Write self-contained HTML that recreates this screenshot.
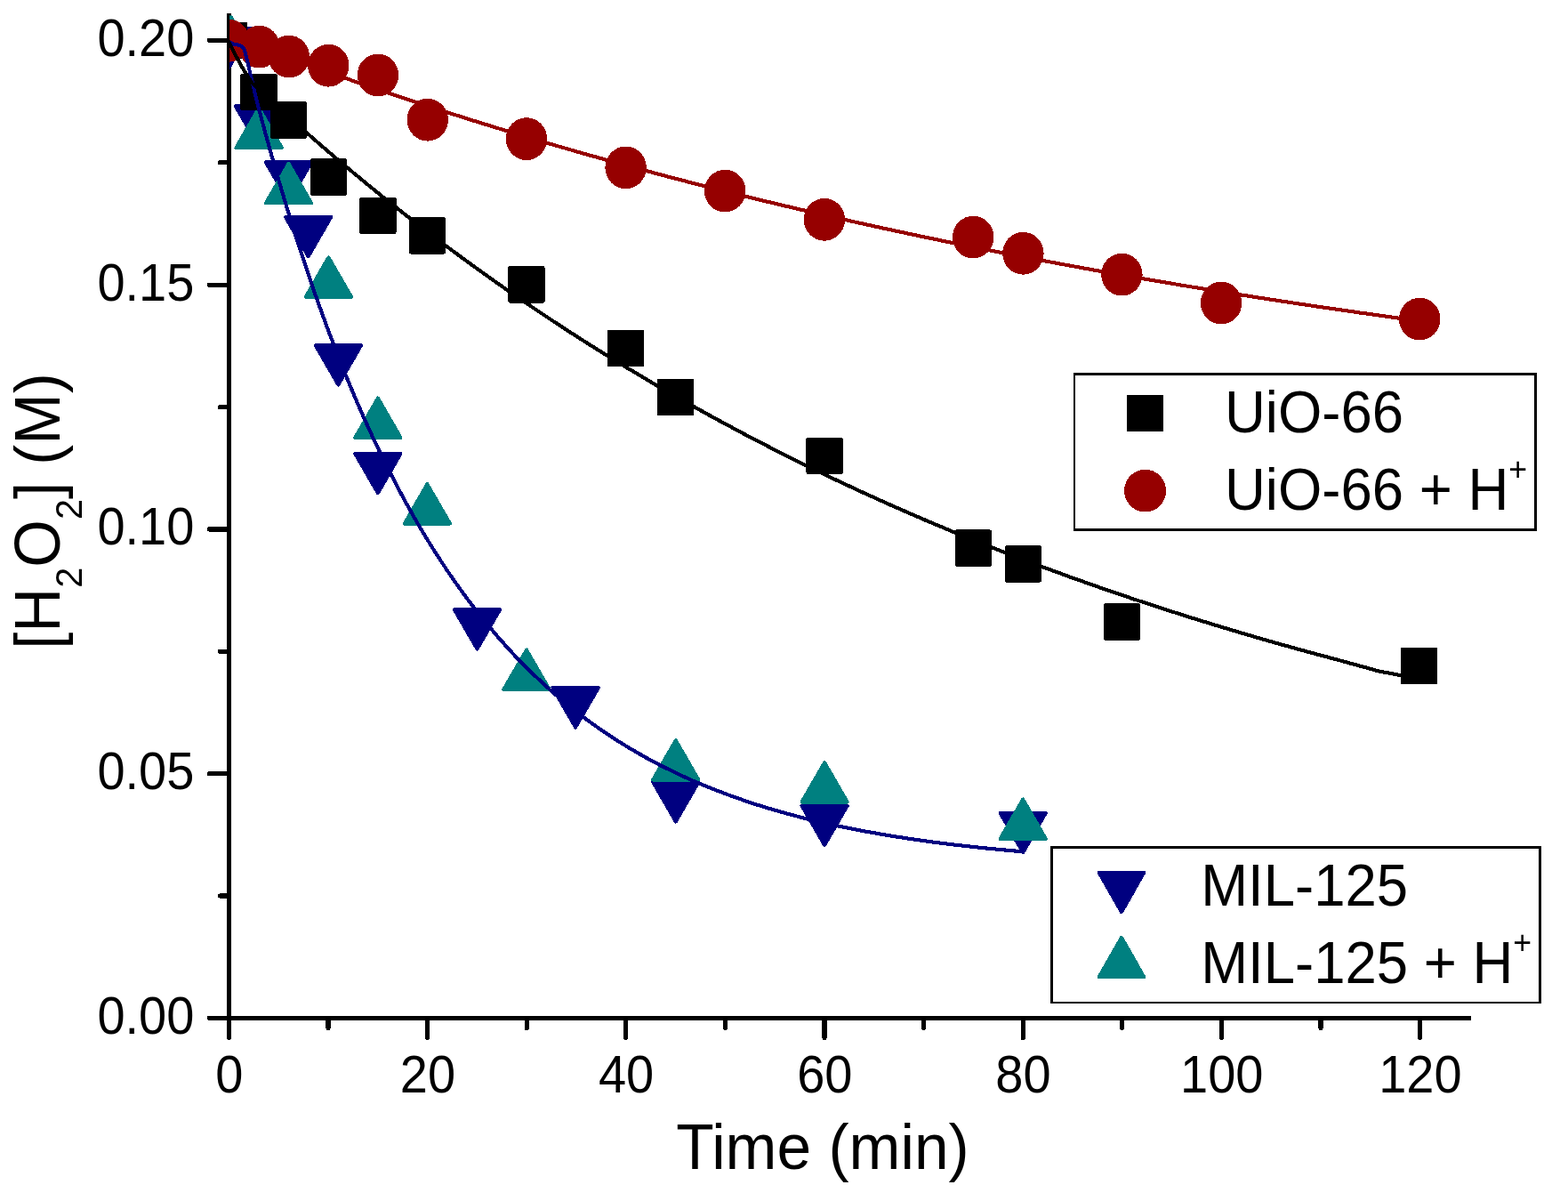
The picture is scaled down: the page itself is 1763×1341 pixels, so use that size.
<!DOCTYPE html>
<html lang="en"><head><meta charset="utf-8"><title>H2O2 decomposition over UiO-66 and MIL-125</title>
<style>
html,body{margin:0;padding:0;background:#fff;}
body{width:1763px;height:1341px;overflow:hidden;}
svg{display:block;}
text{font-family:'Liberation Sans', Arial, Helvetica, sans-serif;fill:#000;}
</style></head><body>
<svg width="1763" height="1341" viewBox="0 0 1763 1341">
<rect x="0" y="0" width="1763" height="1341" fill="#fff"/>
<defs><clipPath id="plot"><rect x="258.10" y="17.50" width="1397.30" height="1126.90"/></clipPath></defs>
<g stroke="#000" stroke-width="5.20" stroke-linecap="round" fill="none" shape-rendering="crispEdges">
<path d="M257.40,17.20 V1144.40"/>
<path d="M257.40,1144.40 H1654.00" stroke-linecap="butt"/>
<path d="M257.40,1144.40 H235.40"/>
<path d="M257.40,869.68 H235.40"/>
<path d="M257.40,594.95 H235.40"/>
<path d="M257.40,320.23 H235.40"/>
<path d="M257.40,45.50 H235.40"/>
<path d="M257.40,1007.04 H247.40"/>
<path d="M257.40,732.31 H247.40"/>
<path d="M257.40,457.59 H247.40"/>
<path d="M257.40,182.86 H247.40"/>
<path d="M257.40,1144.40 V1166.40"/>
<path d="M480.60,1144.40 V1166.40"/>
<path d="M703.80,1144.40 V1166.40"/>
<path d="M927.00,1144.40 V1166.40"/>
<path d="M1150.20,1144.40 V1166.40"/>
<path d="M1373.40,1144.40 V1166.40"/>
<path d="M1596.60,1144.40 V1166.40"/>
<path d="M369.00,1144.40 V1155.40"/>
<path d="M592.20,1144.40 V1155.40"/>
<path d="M815.40,1144.40 V1155.40"/>
<path d="M1038.60,1144.40 V1155.40"/>
<path d="M1261.80,1144.40 V1155.40"/>
<path d="M1485.00,1144.40 V1155.40"/>
</g>
<g clip-path="url(#plot)" shape-rendering="crispEdges">
<g fill="#000080">
<path d="M231.75,31.50 L283.05,31.50 L257.40,75.90 Z" fill="#000080" stroke="#000080" stroke-width="4" stroke-linejoin="round"/>
<path d="M264.85,119.40 L316.15,119.40 L290.50,163.80 Z" fill="#000080" stroke="#000080" stroke-width="4" stroke-linejoin="round"/>
<path d="M298.85,182.40 L350.15,182.40 L324.50,226.80 Z" fill="#000080" stroke="#000080" stroke-width="4" stroke-linejoin="round"/>
<path d="M320.95,243.90 L372.25,243.90 L346.60,288.30 Z" fill="#000080" stroke="#000080" stroke-width="4" stroke-linejoin="round"/>
<path d="M354.75,388.20 L406.05,388.20 L380.40,432.60 Z" fill="#000080" stroke="#000080" stroke-width="4" stroke-linejoin="round"/>
<path d="M399.25,509.90 L450.55,509.90 L424.90,554.30 Z" fill="#000080" stroke="#000080" stroke-width="4" stroke-linejoin="round"/>
<path d="M510.85,685.20 L562.15,685.20 L536.50,729.60 Z" fill="#000080" stroke="#000080" stroke-width="4" stroke-linejoin="round"/>
<path d="M621.45,773.20 L672.75,773.20 L647.10,817.60 Z" fill="#000080" stroke="#000080" stroke-width="4" stroke-linejoin="round"/>
<path d="M734.15,879.10 L785.45,879.10 L759.80,923.50 Z" fill="#000080" stroke="#000080" stroke-width="4" stroke-linejoin="round"/>
<path d="M901.45,905.60 L952.75,905.60 L927.10,950.00 Z" fill="#000080" stroke="#000080" stroke-width="4" stroke-linejoin="round"/>
<path d="M1124.55,913.90 L1175.85,913.90 L1150.20,958.30 Z" fill="#000080" stroke="#000080" stroke-width="4" stroke-linejoin="round"/>
</g>
<g fill="#008080">
<path d="M231.75,59.50 L283.05,59.50 L257.40,15.10 Z" fill="#008080" stroke="#008080" stroke-width="4" stroke-linejoin="round"/>
<path d="M265.45,165.90 L316.75,165.90 L291.10,121.50 Z" fill="#008080" stroke="#008080" stroke-width="4" stroke-linejoin="round"/>
<path d="M298.85,228.40 L350.15,228.40 L324.50,184.00 Z" fill="#008080" stroke="#008080" stroke-width="4" stroke-linejoin="round"/>
<path d="M343.75,333.70 L395.05,333.70 L369.40,289.30 Z" fill="#008080" stroke="#008080" stroke-width="4" stroke-linejoin="round"/>
<path d="M399.25,491.90 L450.55,491.90 L424.90,447.50 Z" fill="#008080" stroke="#008080" stroke-width="4" stroke-linejoin="round"/>
<path d="M454.75,588.60 L506.05,588.60 L480.40,544.20 Z" fill="#008080" stroke="#008080" stroke-width="4" stroke-linejoin="round"/>
<path d="M566.35,774.90 L617.65,774.90 L592.00,730.50 Z" fill="#008080" stroke="#008080" stroke-width="4" stroke-linejoin="round"/>
<path d="M734.15,876.60 L785.45,876.60 L759.80,832.20 Z" fill="#008080" stroke="#008080" stroke-width="4" stroke-linejoin="round"/>
<path d="M901.45,901.60 L952.75,901.60 L927.10,857.20 Z" fill="#008080" stroke="#008080" stroke-width="4" stroke-linejoin="round"/>
<path d="M1124.55,942.90 L1175.85,942.90 L1150.20,898.50 Z" fill="#008080" stroke="#008080" stroke-width="4" stroke-linejoin="round"/>
</g>
<g fill="#000">
<rect x="238.70" y="26.80" width="37.40" height="37.40" fill="#000" stroke="#000" stroke-width="4" stroke-linejoin="round"/>
<rect x="272.30" y="85.00" width="37.40" height="37.40" fill="#000" stroke="#000" stroke-width="4" stroke-linejoin="round"/>
<rect x="305.90" y="116.30" width="37.40" height="37.40" fill="#000" stroke="#000" stroke-width="4" stroke-linejoin="round"/>
<rect x="350.80" y="180.30" width="37.40" height="37.40" fill="#000" stroke="#000" stroke-width="4" stroke-linejoin="round"/>
<rect x="406.20" y="223.60" width="37.40" height="37.40" fill="#000" stroke="#000" stroke-width="4" stroke-linejoin="round"/>
<rect x="461.80" y="246.10" width="37.40" height="37.40" fill="#000" stroke="#000" stroke-width="4" stroke-linejoin="round"/>
<rect x="573.30" y="301.10" width="37.40" height="37.40" fill="#000" stroke="#000" stroke-width="4" stroke-linejoin="round"/>
<rect x="684.90" y="372.70" width="37.40" height="37.40" fill="#000" stroke="#000" stroke-width="4" stroke-linejoin="round"/>
<rect x="741.00" y="427.70" width="37.40" height="37.40" fill="#000" stroke="#000" stroke-width="4" stroke-linejoin="round"/>
<rect x="908.40" y="493.70" width="37.40" height="37.40" fill="#000" stroke="#000" stroke-width="4" stroke-linejoin="round"/>
<rect x="1075.50" y="597.40" width="37.40" height="37.40" fill="#000" stroke="#000" stroke-width="4" stroke-linejoin="round"/>
<rect x="1131.50" y="615.20" width="37.40" height="37.40" fill="#000" stroke="#000" stroke-width="4" stroke-linejoin="round"/>
<rect x="1242.80" y="680.40" width="37.40" height="37.40" fill="#000" stroke="#000" stroke-width="4" stroke-linejoin="round"/>
<rect x="1576.80" y="729.70" width="37.40" height="37.40" fill="#000" stroke="#000" stroke-width="4" stroke-linejoin="round"/>
</g>
<g fill="#960000">
<ellipse cx="257.40" cy="45.70" rx="23.20" ry="23.90"/>
<ellipse cx="291.40" cy="52.60" rx="23.20" ry="23.90"/>
<ellipse cx="324.80" cy="63.60" rx="23.20" ry="23.90"/>
<ellipse cx="369.30" cy="73.70" rx="23.20" ry="23.90"/>
<ellipse cx="424.90" cy="84.50" rx="23.20" ry="23.90"/>
<ellipse cx="480.80" cy="134.70" rx="23.20" ry="23.90"/>
<ellipse cx="592.00" cy="156.10" rx="23.20" ry="23.90"/>
<ellipse cx="703.60" cy="188.40" rx="23.20" ry="23.90"/>
<ellipse cx="815.20" cy="214.60" rx="23.20" ry="23.90"/>
<ellipse cx="926.90" cy="246.80" rx="23.20" ry="23.90"/>
<ellipse cx="1094.20" cy="266.60" rx="23.20" ry="23.90"/>
<ellipse cx="1150.40" cy="284.80" rx="23.20" ry="23.90"/>
<ellipse cx="1261.40" cy="308.60" rx="23.20" ry="23.90"/>
<ellipse cx="1373.10" cy="340.60" rx="23.20" ry="23.90"/>
<ellipse cx="1596.20" cy="358.60" rx="23.20" ry="23.90"/>
</g>
<g fill="none" stroke-width="4.1" stroke-linejoin="round" stroke-linecap="round">
<path d="M257.40,39.40 C262.98,41.55 279.72,48.04 290.88,52.27 C302.04,56.51 313.20,60.68 324.36,64.81 C335.52,68.93 346.68,73.00 357.84,77.01 C369.00,81.03 380.16,84.99 391.32,88.90 C402.48,92.81 413.64,96.67 424.80,100.48 C435.96,104.28 447.12,108.04 458.28,111.75 C469.44,115.46 480.60,119.11 491.76,122.73 C502.92,126.34 514.08,129.90 525.24,133.41 C536.40,136.93 547.56,140.40 558.72,143.82 C569.88,147.25 581.04,150.63 592.20,153.96 C603.36,157.30 614.52,160.59 625.68,163.83 C636.84,167.08 648.00,170.28 659.16,173.45 C670.32,176.61 681.48,179.73 692.64,182.81 C703.80,185.89 714.96,188.92 726.12,191.92 C737.28,194.92 748.44,197.88 759.60,200.80 C770.76,203.72 781.92,206.60 793.08,209.44 C804.24,212.29 815.40,215.09 826.56,217.86 C837.72,220.63 848.88,223.36 860.04,226.06 C871.20,228.76 882.36,231.42 893.52,234.04 C904.68,236.67 915.84,239.26 927.00,241.82 C938.16,244.37 949.32,246.90 960.48,249.39 C971.64,251.88 982.80,254.33 993.96,256.76 C1005.12,259.18 1016.28,261.58 1027.44,263.94 C1038.60,266.30 1049.76,268.63 1060.92,270.93 C1072.08,273.23 1083.24,275.50 1094.40,277.74 C1105.56,279.98 1116.72,282.19 1127.88,284.37 C1139.04,286.55 1150.20,288.70 1161.36,290.82 C1172.52,292.95 1183.68,295.04 1194.84,297.11 C1206.00,299.18 1217.16,301.22 1228.32,303.23 C1239.48,305.25 1250.64,307.23 1261.80,309.19 C1272.96,311.16 1284.12,313.09 1295.28,315.00 C1306.44,316.91 1317.60,318.79 1328.76,320.65 C1339.92,322.51 1351.08,324.35 1362.24,326.16 C1373.40,327.97 1384.56,329.76 1395.72,331.52 C1406.88,333.28 1418.04,335.02 1429.20,336.74 C1440.36,338.46 1451.52,340.15 1462.68,341.83 C1473.84,343.50 1485.00,345.15 1496.16,346.78 C1507.32,348.41 1518.48,350.01 1529.64,351.60 C1540.80,353.18 1551.96,354.75 1563.12,356.29 C1574.28,357.84 1591.02,360.10 1596.60,360.87" stroke="#960000"/>
<path d="M257.40,47.00 C258.30,47.43 260.92,48.97 262.80,49.60 C264.68,50.23 267.07,50.27 268.70,50.80 C270.33,51.33 271.60,52.02 272.60,52.80 C273.60,53.58 274.07,53.97 274.70,55.50 C275.33,57.03 275.83,59.78 276.40,62.00 C276.97,64.22 277.53,66.47 278.10,68.80 C278.67,71.13 279.23,73.60 279.80,76.00 C280.37,78.40 280.80,80.28 281.50,83.20 C282.20,86.12 282.81,88.49 284.00,93.50 C285.19,98.51 287.13,107.16 288.65,113.26 C290.17,119.37 291.62,124.55 293.11,130.12 C294.60,135.68 296.09,141.19 297.58,146.64 C299.06,152.10 300.37,156.84 302.04,162.84 C303.71,168.84 305.76,176.13 307.62,182.65 C309.48,189.17 311.34,195.61 313.20,201.98 C315.06,208.34 316.92,214.62 318.78,220.83 C320.64,227.04 321.57,230.25 324.36,239.23 C327.15,248.21 331.80,263.15 335.52,274.69 C339.24,286.23 342.96,297.46 346.68,308.45 C350.40,319.43 354.12,330.12 357.84,340.58 C361.56,351.03 365.28,361.21 369.00,371.16 C372.72,381.11 376.44,390.81 380.16,400.28 C383.88,409.75 387.60,418.98 391.32,427.99 C395.04,437.01 398.76,445.79 402.48,454.38 C406.20,462.96 409.92,471.32 413.64,479.49 C417.36,487.66 421.08,495.62 424.80,503.40 C428.52,511.17 430.38,515.31 435.96,526.15 C441.54,536.99 450.84,555.00 458.28,568.43 C465.72,581.87 473.16,594.58 480.60,606.75 C488.04,618.92 495.48,630.43 502.92,641.46 C510.36,652.49 517.80,662.93 525.24,672.92 C532.68,682.91 540.12,692.37 547.56,701.42 C555.00,710.48 562.44,719.05 569.88,727.25 C577.32,735.46 582.90,741.58 592.20,750.66 C601.50,759.73 614.52,772.07 625.68,781.71 C636.84,791.35 648.00,800.18 659.16,808.49 C670.32,816.81 681.48,824.42 692.64,831.59 C703.80,838.77 714.96,845.34 726.12,851.52 C737.28,857.71 748.44,863.37 759.60,868.71 C770.76,874.05 780.06,878.29 793.08,883.53 C806.10,888.78 822.84,895.13 837.72,900.18 C852.60,905.23 867.48,909.70 882.36,913.85 C897.24,918.00 912.12,921.67 927.00,925.07 C941.88,928.48 956.76,931.49 971.64,934.29 C986.52,937.08 1001.40,939.56 1016.28,941.85 C1031.16,944.15 1046.04,946.18 1060.92,948.06 C1075.80,949.95 1090.68,951.62 1105.56,953.17 C1120.44,954.71 1142.76,956.65 1150.20,957.35" stroke="#000080"/>
<path d="M257.40,46.50 C257.58,47.02 257.25,47.02 258.50,49.60 C259.75,52.18 262.77,57.93 264.90,62.00 C267.03,66.07 269.10,70.17 271.30,74.00 C273.50,77.83 275.98,81.67 278.10,85.00 C280.22,88.33 281.87,91.60 284.00,94.00 C286.13,96.40 287.87,96.64 290.88,99.37 C293.89,102.11 298.32,106.83 302.04,110.41 C305.76,113.99 309.48,117.43 313.20,120.87 C316.92,124.31 318.78,126.04 324.36,131.05 C329.94,136.06 339.24,144.37 346.68,150.91 C354.12,157.45 359.70,162.35 369.00,170.28 C378.30,178.20 391.32,189.24 402.48,198.48 C413.64,207.73 424.80,216.80 435.96,225.73 C447.12,234.65 458.28,243.42 469.44,252.04 C480.60,260.66 491.76,269.13 502.92,277.46 C514.08,285.78 525.24,293.96 536.40,302.00 C547.56,310.04 558.72,317.94 569.88,325.71 C581.04,333.47 592.20,341.10 603.36,348.60 C614.52,356.10 625.68,363.47 636.84,370.71 C648.00,377.96 659.16,385.07 670.32,392.07 C681.48,399.07 692.64,405.94 703.80,412.70 C714.96,419.46 726.12,426.09 737.28,432.62 C748.44,439.15 759.60,445.56 770.76,451.86 C781.92,458.17 793.08,464.36 804.24,470.45 C815.40,476.53 826.56,482.51 837.72,488.39 C848.88,494.27 860.04,500.05 871.20,505.73 C882.36,511.41 893.52,516.98 904.68,522.47 C915.84,527.96 927.00,533.34 938.16,538.64 C949.32,543.94 960.48,549.14 971.64,554.26 C982.80,559.37 993.96,564.40 1005.12,569.34 C1016.28,574.28 1027.44,579.14 1038.60,583.91 C1049.76,588.68 1060.92,593.37 1072.08,597.98 C1083.24,602.59 1094.40,607.12 1105.56,611.57 C1116.72,616.02 1127.88,620.39 1139.04,624.69 C1150.20,628.99 1161.36,633.21 1172.52,637.37 C1183.68,641.52 1194.84,645.60 1206.00,649.61 C1217.16,653.62 1228.32,657.56 1239.48,661.43 C1250.64,665.31 1261.80,669.11 1272.96,672.85 C1284.12,676.60 1295.28,680.27 1306.44,683.88 C1317.60,687.50 1328.76,691.05 1339.92,694.54 C1351.08,698.03 1362.24,701.45 1373.40,704.82 C1384.56,708.20 1395.72,711.51 1406.88,714.76 C1418.04,718.02 1429.20,721.21 1440.36,724.36 C1451.52,727.50 1462.68,730.59 1473.84,733.63 C1485.00,736.66 1494.49,739.08 1507.32,742.58 C1520.15,746.08 1543.55,752.60 1550.80,754.60 L1575.10,759.10 L1595.50,762.60" stroke="#000"/>
</g>
</g>
<text transform="translate(218.40,1161.80) scale(1,1.047)" font-size="56px" text-anchor="end">0.00</text>
<text transform="translate(218.40,887.08) scale(1,1.047)" font-size="56px" text-anchor="end">0.05</text>
<text transform="translate(218.40,612.35) scale(1,1.047)" font-size="56px" text-anchor="end">0.10</text>
<text transform="translate(218.40,337.62) scale(1,1.047)" font-size="56px" text-anchor="end">0.15</text>
<text transform="translate(218.40,62.90) scale(1,1.047)" font-size="56px" text-anchor="end">0.20</text>
<text transform="translate(257.70,1227.60) scale(1,1.047)" font-size="56px" text-anchor="middle">0</text>
<text transform="translate(480.90,1227.60) scale(1,1.047)" font-size="56px" text-anchor="middle">20</text>
<text transform="translate(704.10,1227.60) scale(1,1.047)" font-size="56px" text-anchor="middle">40</text>
<text transform="translate(927.30,1227.60) scale(1,1.047)" font-size="56px" text-anchor="middle">60</text>
<text transform="translate(1150.50,1227.60) scale(1,1.047)" font-size="56px" text-anchor="middle">80</text>
<text transform="translate(1373.70,1227.60) scale(1,1.047)" font-size="56px" text-anchor="middle">100</text>
<text transform="translate(1596.90,1227.60) scale(1,1.047)" font-size="56px" text-anchor="middle">120</text>
<text transform="translate(760.30,1313.50) scale(1,1.047)" font-size="69.5px" text-anchor="start">Time (min)</text>
<text transform="translate(67.10,729.80) rotate(-90) scale(1,1.047)" font-size="69px" text-anchor="start">[H<tspan font-size="41.5px" dy="24.2">2</tspan><tspan dy="-24.2">O</tspan><tspan font-size="41.5px" dy="24.2">2</tspan><tspan dy="-24.2">] (M)</tspan></text>
<g shape-rendering="crispEdges">
<rect x="1207" y="419" width="521" height="178" fill="#fff"/>
<rect x="1207" y="419" width="521" height="3" fill="#000"/>
<rect x="1207" y="594" width="521" height="3" fill="#000"/>
<rect x="1207" y="419" width="2" height="178" fill="#000"/>
<rect x="1725" y="419" width="3" height="178" fill="#000"/>
</g>
<g shape-rendering="crispEdges"><rect x="1268.80" y="445.80" width="37.40" height="37.40" fill="#000" stroke="#000" stroke-width="4" stroke-linejoin="round"/></g>
<ellipse cx="1287.6" cy="551.6" rx="23.50" ry="23.90" fill="#960000" shape-rendering="crispEdges"/>
<text transform="translate(1377.00,485.70) scale(1,1.047)" font-size="63.5px" text-anchor="start">UiO-66</text>
<text transform="translate(1377.00,572.80) scale(1,1.047)" font-size="63.5px" text-anchor="start">UiO-66 + H<tspan font-size="35.7px" dy="-31.6">+</tspan></text>
<g shape-rendering="crispEdges">
<rect x="1181" y="951" width="552" height="177" fill="#fff"/>
<rect x="1181" y="951" width="552" height="3" fill="#000"/>
<rect x="1181" y="1126" width="552" height="2" fill="#000"/>
<rect x="1181" y="951" width="3" height="177" fill="#000"/>
<rect x="1730" y="951" width="3" height="177" fill="#000"/>
</g>
<g shape-rendering="crispEdges"><path d="M1235.70,980.80 L1286.30,980.80 L1261.00,1025.20 Z" fill="#000080" stroke="#000080" stroke-width="4" stroke-linejoin="round"/></g>
<g shape-rendering="crispEdges"><path d="M1235.70,1098.20 L1286.30,1098.20 L1261.00,1053.80 Z" fill="#008080" stroke="#008080" stroke-width="4" stroke-linejoin="round"/></g>
<text transform="translate(1350.20,1017.90) scale(1,1.047)" font-size="63.5px" text-anchor="start">MIL-125</text>
<text transform="translate(1350.20,1104.90) scale(1,1.047)" font-size="63.5px" text-anchor="start">MIL-125 + H<tspan font-size="35.7px" dy="-31.6">+</tspan></text>
</svg>
</body></html>
